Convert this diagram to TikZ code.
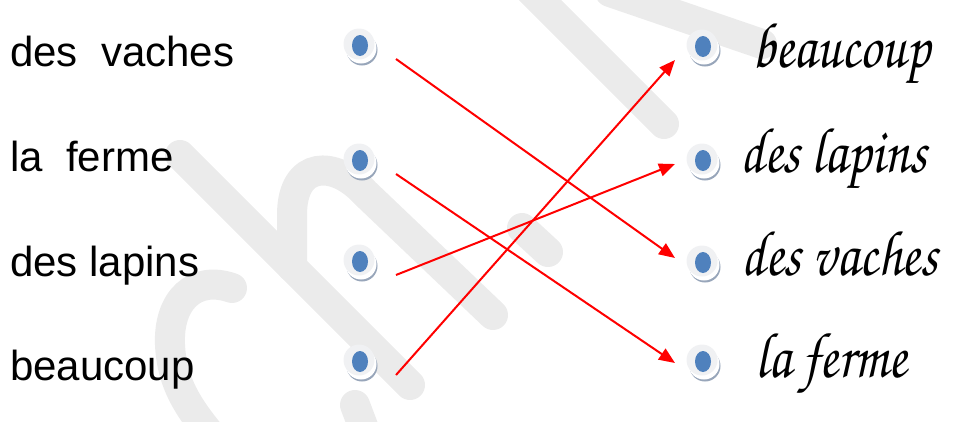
\documentclass[tikz,border=0pt]{standalone}
\usepackage[T1]{fontenc}
\usepackage{fontspec}
\setmainfont{Liberation Sans}
\usepackage{tikz}
\usetikzlibrary{arrows.meta,positioning}

\newcommand{\cursive}{\fontencoding{T1}\fontfamily{pzc}\fontseries{mb}\fontshape{it}\selectfont}
\newcommand{\tallword}[1]{\scalebox{0.97}[1.15]{#1}}

\begin{document}
\begin{tikzpicture}[
            x=1pt,y=1pt,
            coin/.style={circle,fill=coinface,minimum size=31pt,inner sep=0pt,
                preaction={fill=coinshade,transform canvas={xshift=3pt,yshift=-6pt}},
                preaction={fill=white,transform canvas={xshift=2pt,yshift=-4pt}},
                path picture={\fill[coindot] ([shift={(1pt,-1.5pt)}]path picture bounding box.center) ellipse (8pt and 10.5pt);}},
            link/.style={red,line width=2pt,-{Triangle[length=16pt,width=13pt]}},
            wmark/.style={wmx,line width=30pt,line cap=round}
        ]
            \colorlet{wmx}{black!8}
            \definecolor{coinface}{RGB}{240,241,243}
            \definecolor{coinshade}{RGB}{152,166,186}
            \definecolor{coindot}{RGB}{79,129,189}

            \clip (0,0) rectangle (955,-421);

            % watermark
            \draw [wmark] (180,-155) -- (410,-385);
            \draw [wmark] (292,-267) -- (292,-215) .. controls (292,-160) and (335,-160) .. (365,-193) -- (493,-315);
            \draw [wmark] (232,-288) .. controls (195,-275) and (168,-300) .. (170,-345) .. controls (172,-385) and (190,-410) .. (215,-440);
            \draw [wmark] (355,-405) -- (372,-450);
            \draw [wmark] (522,-228) -- (548,-252);
            \draw [wmark] (530,10) -- (664,-124);
            \draw [wmark] (610,8) -- (762,-44);

            \begin{scope}[
                every node/.style={anchor=base west,inner sep=0pt,font=\fontsize{42}{50}\selectfont}
            ]
                \node (a1) at (10,-66)  {des~~vaches};
                \node (a2) at (10,-171) {la~~ferme};
                \node (a3) at (10,-276) {des lapins};
                \node (a4) at (10,-380) {beaucoup};
            \end{scope}

            \node (l1) at (359,-44)  [coin] {};
            \node (l2) at (359,-159) [coin] {};
            \node (l3) at (359,-260) [coin] {};
            \node (l4) at (359,-360) [coin] {};

            \node (r1) at (702,-45)  [coin] {};
            \node (r2) at (702,-159) [coin] {};
            \node (r3) at (702,-261) [coin] {};
            \node (r4) at (702,-360) [coin] {};

            \begin{scope}[
                every node/.style={anchor=base west,inner sep=0pt,font=\cursive\fontsize{56}{60}\selectfont}
            ]
                \node (b1) at (752,-67)  {\tallword{beaucoup}};
                \node (b2) at (740,-172) {\tallword{des lapins}};
                \node (b3) at (741,-275) {\tallword{des vaches}};
                \node (b4) at (755,-377) {\tallword{la ferme}};
            \end{scope}

            \draw [link] ([shift={(37,-15)}]l1.center) -- ([shift={(-27,3)}]r3.center);
            \draw [link] ([shift={(37,-15)}]l2.center) -- ([shift={(-27,-3)}]r4.center);
            \draw [link] ([shift={(37,-15)}]l3.center) -- ([shift={(-27,-5)}]r2.center);
            \draw [link] ([shift={(37,-15)}]l4.center) -- ([shift={(-27,-15)}]r1.center);
        \end{tikzpicture}
\end{document}
